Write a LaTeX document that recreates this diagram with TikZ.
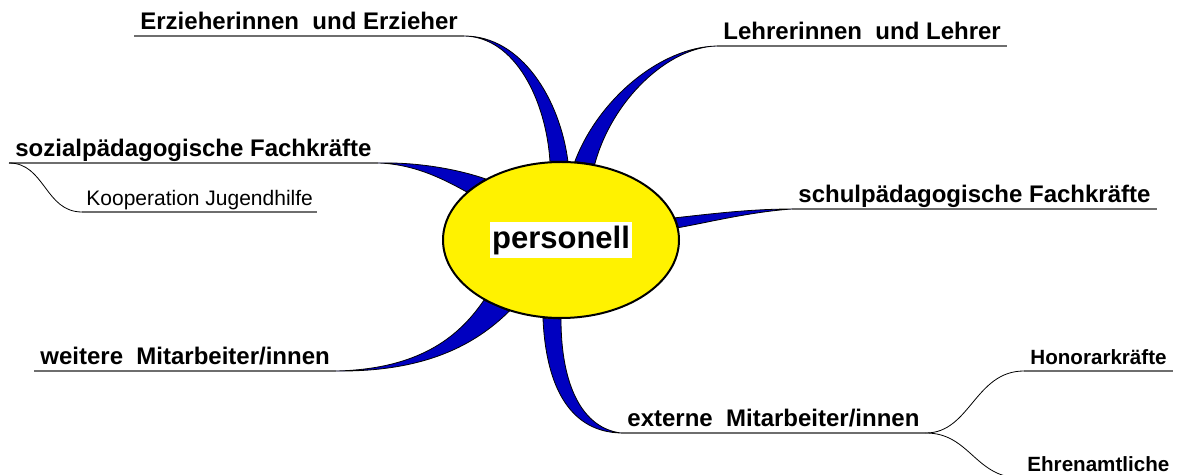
\documentclass[tikz,border=0pt]{standalone}
\usepackage{fontspec}
\setmainfont{Liberation Sans}
\usetikzlibrary{shapes.geometric,backgrounds}
\definecolor{armblue}{RGB}{0,0,192}
\definecolor{linegray}{RGB}{110,110,110}

\tikzset{
  lbl/.style={font=\bfseries\fontsize{12}{14}\selectfont, text depth=0pt,
    inner xsep=3pt, inner ysep=3pt, anchor=south west},
  sublbl/.style={lbl, font=\bfseries\fontsize{10.3}{12}\selectfont},
  smalllbl/.style={lbl, font=\fontsize{10.5}{12}\selectfont, inner xsep=2pt},
  uline/.style={draw=linegray, line width=0.6pt},
  twig/.style={draw=black, line width=0.4pt},
  arm/.style={fill=armblue, draw=black, line width=0.4pt}
}

\begin{document}
\begin{tikzpicture}[x=0.5pt,y=-0.5pt]
\useasboundingbox (0,0) rectangle (1178,475);

% centre
\node[ellipse, draw, fill=yellow, line width=1pt, minimum width=118pt,
  minimum height=78pt, inner sep=0pt] (pers) at (561,240) {};
\node[fill=white, font=\bfseries\fontsize{15.5}{18}\selectfont,
  inner xsep=1pt, inner ysep=2pt] (perstxt) at (pers.center) {personell};

% labels
\node[lbl] (erz) at (134,36) {Erzieherinnen\ \ und Erzieher};
\node[lbl] (leh) at (717,46) {Lehrerinnen\ \ und Lehrer};
\node[lbl] (soz) at (9,163) {sozialp\"adagogische Fachkr\"afte};
\node[smalllbl] (koop) at (82,212) {Kooperation Jugendhilfe};
\node[lbl] (schul) at (792,209) {schulp\"adagogische Fachkr\"afte};
\node[lbl] (weit) at (34,371) {weitere\ \ Mitarbeiter/innen};
\node[lbl] (ext) at (621,433) {externe\ \ Mitarbeiter/innen};
\node[sublbl] (hon) at (1024,371) {Honorarkr\"afte};
\node[sublbl] (ehr) at (1021,478) {Ehrenamtliche};

\foreach \n in {erz,leh,soz,koop,schul,weit,ext,hon,ehr}
  \draw[uline] (\n.south west) -- (\n.south east);

% arms behind the ellipse
\begin{pgfonlayer}{background}
\draw[arm] (erz.south east) .. controls (515,37) and (546,100) .. (pers.98)
  -- (pers.85) .. controls (560,100) and (522,36) .. (erz.south east);
\draw[arm] (leh.south west) .. controls (660,47) and (598,100) .. (pers.80)
  -- (pers.66) .. controls (612,100) and (668,47) .. (leh.south west);
\draw[arm] (soz.south east) .. controls (420,162) and (460,170) .. (pers.141)
  -- (pers.153) .. controls (445,180) and (415,164) .. (soz.south east);
\draw[arm] (pers.11) .. controls (710,214) and (750,209) .. (schul.south west)
  .. controls (750,212) and (710,222) .. (pers.6) -- cycle;
\draw[arm] (weit.south east) .. controls (425,369) and (462,332) .. (pers.218)
  -- (pers.234) .. controls (475,345) and (425,372) .. (weit.south east);
\draw[arm] (pers.257) .. controls (546,390) and (572,432) .. (ext.south west)
  .. controls (582,428) and (561,385) .. (pers.270) -- cycle;
\end{pgfonlayer}

% sub branches
\draw[twig] (soz.south west) .. controls (45,163) and (45,212) .. (koop.south west);
\draw[twig] (ext.south east) .. controls (970,433) and (975,371) .. (hon.south west);
\draw[twig] (ext.south east) .. controls (970,433) and (975,478) .. (ehr.south west);
\end{tikzpicture}
\end{document}
